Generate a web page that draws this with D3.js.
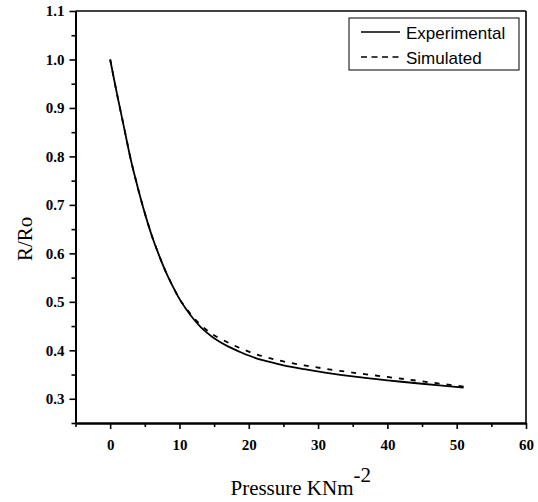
<!DOCTYPE html>
<html>
<head>
<meta charset="UTF-8">
<script src="https://d3js.org/d3.v7.min.js"></script>
<style>
    body { margin: 0; background: #fff; }
    svg { display: block; }
</style>
</head>
<body>
<svg width="538" height="502"></svg>
<script>
    // pressure (KNm^-2) values
    const expPressure = [0, 1, 2, 3, 4, 5, 6, 7, 8, 9, 10, 11, 12, 13, 14, 15, 17, 19, 21, 23, 25, 28, 31, 35, 40, 45, 51];
    const expRatio    = [1.0, 0.928, 0.86, 0.792, 0.735, 0.683, 0.637, 0.598, 0.563, 0.533, 0.506, 0.484, 0.465, 0.449, 0.436, 0.425, 0.408, 0.395, 0.384, 0.376, 0.369, 0.361, 0.354, 0.346, 0.338, 0.331, 0.323];
    const simPressure = [0, 1, 2, 3, 4, 5, 6, 7, 8, 9, 10, 11, 12, 13, 14, 15, 17, 19, 21, 23, 25, 28, 31, 35, 40, 45, 51];
    const simRatio    = [1.0, 0.928, 0.86, 0.792, 0.735, 0.683, 0.637, 0.598, 0.563, 0.533, 0.506, 0.486, 0.468, 0.453, 0.441, 0.431, 0.416, 0.403, 0.392, 0.384, 0.377, 0.369, 0.362, 0.354, 0.345, 0.336, 0.325];

    const xTicks = [0, 10, 20, 30, 40, 50, 60];
    const xMinor = [-5, 5, 15, 25, 35, 45, 55];
    const yTicks = [0.3, 0.4, 0.5, 0.6, 0.7, 0.8, 0.9, 1.0, 1.1];
    const yMinor = [0.25, 0.35, 0.45, 0.55, 0.65, 0.75, 0.85, 0.95, 1.05];

    const seriesNames = ["Experimental", "Simulated"];

    const serif = "'Liberation Serif', 'Times New Roman', serif";

    const margin = {top: 11, right: 12, bottom: 79, left: 75.5},
          width = 538 - margin.left - margin.right,
          height = 502 - margin.top - margin.bottom;

    const svg = d3.select("svg")
        .append("g")
        .attr("transform", `translate(${margin.left},${margin.top})`);

    const x = d3.scaleLinear().domain([-5, 60]).range([0, width]);
    const y = d3.scaleLinear().domain([0.25, 1.1]).range([height, 0]);

    // frame top/right
    svg.append("line").attr("x1", 0).attr("x2", width).attr("y1", 0).attr("y2", 0)
        .attr("stroke", "#000").attr("stroke-width", 1.6);
    svg.append("line").attr("x1", width).attr("x2", width).attr("y1", 0).attr("y2", height)
        .attr("stroke", "#000").attr("stroke-width", 1.6);

    // x axis
    svg.append("g").attr("transform", `translate(0,${height})`)
        .call(d3.axisBottom(x).tickValues(xTicks).tickFormat(d3.format("d")).tickSize(6).tickSizeOuter(0).tickPadding(10));
    svg.append("g").attr("transform", `translate(0,${height})`)
        .call(d3.axisBottom(x).tickValues(xMinor).tickFormat("").tickSize(4).tickSizeOuter(0));

    // y axis
    svg.append("g")
        .call(d3.axisLeft(y).tickValues(yTicks).tickFormat(d3.format(".1f")).tickSize(6).tickSizeOuter(0).tickPadding(5));
    svg.append("g")
        .call(d3.axisLeft(y).tickValues(yMinor).tickFormat("").tickSize(4).tickSizeOuter(0));

    svg.selectAll(".domain").attr("stroke", "#000").attr("stroke-width", 2);
    svg.selectAll(".tick line").attr("stroke", "#000").attr("stroke-width", 1.6);
    svg.selectAll(".tick text")
        .style("font-family", serif)
        .style("font-weight", "bold")
        .style("font-size", "15px")
        .attr("fill", "#000");

    // curves
    const expData = expPressure.map((p, i) => ({p: p, r: expRatio[i]}));
    const simData = simPressure.map((p, i) => ({p: p, r: simRatio[i]}));

    const line = d3.line()
        .x(d => x(d.p))
        .y(d => y(d.r))
        .curve(d3.curveCatmullRom);

    svg.append("path")
        .datum(simData)
        .attr("d", line)
        .attr("fill", "none")
        .attr("stroke", "#000")
        .attr("stroke-width", 1.8)
        .attr("stroke-dasharray", "5,7");

    svg.append("path")
        .datum(expData)
        .attr("d", line)
        .attr("fill", "none")
        .attr("stroke", "#000")
        .attr("stroke-width", 1.8);

    // axis titles
    const xt = svg.append("text")
        .attr("x", width / 2)
        .attr("y", height + 72)
        .attr("text-anchor", "middle")
        .style("font-family", serif)
        .style("font-size", "21px");
    xt.append("tspan").text("Pressure KNm");
    xt.append("tspan").attr("dy", -13).text("-2");

    svg.append("text")
        .attr("transform", "rotate(-90)")
        .attr("x", -(y(0.63)))
        .attr("y", -margin.left + 32)
        .attr("text-anchor", "middle")
        .style("font-family", serif)
        .style("font-size", "21px")
        .text("R/Ro");

    // legend
    const lg = svg.append("g").attr("transform", `translate(${349 - margin.left},${18 - margin.top})`);
    lg.append("rect")
        .attr("width", 170).attr("height", 52)
        .attr("fill", "#fff").attr("stroke", "#000").attr("stroke-width", 1);
    seriesNames.forEach((name, i) => {
        const yy = 14 + i * 25;
        lg.append("line")
            .attr("x1", 12).attr("x2", 51).attr("y1", yy).attr("y2", yy)
            .attr("stroke", "#000").attr("stroke-width", 1.5)
            .attr("stroke-dasharray", i === 1 ? "6,4.5" : null);
        lg.append("text")
            .attr("x", 57).attr("y", yy + 7)
            .style("font-family", "'Liberation Sans', Arial, sans-serif")
            .style("font-size", "17px")
            .text(name);
    });
</script>
</body>
</html>
